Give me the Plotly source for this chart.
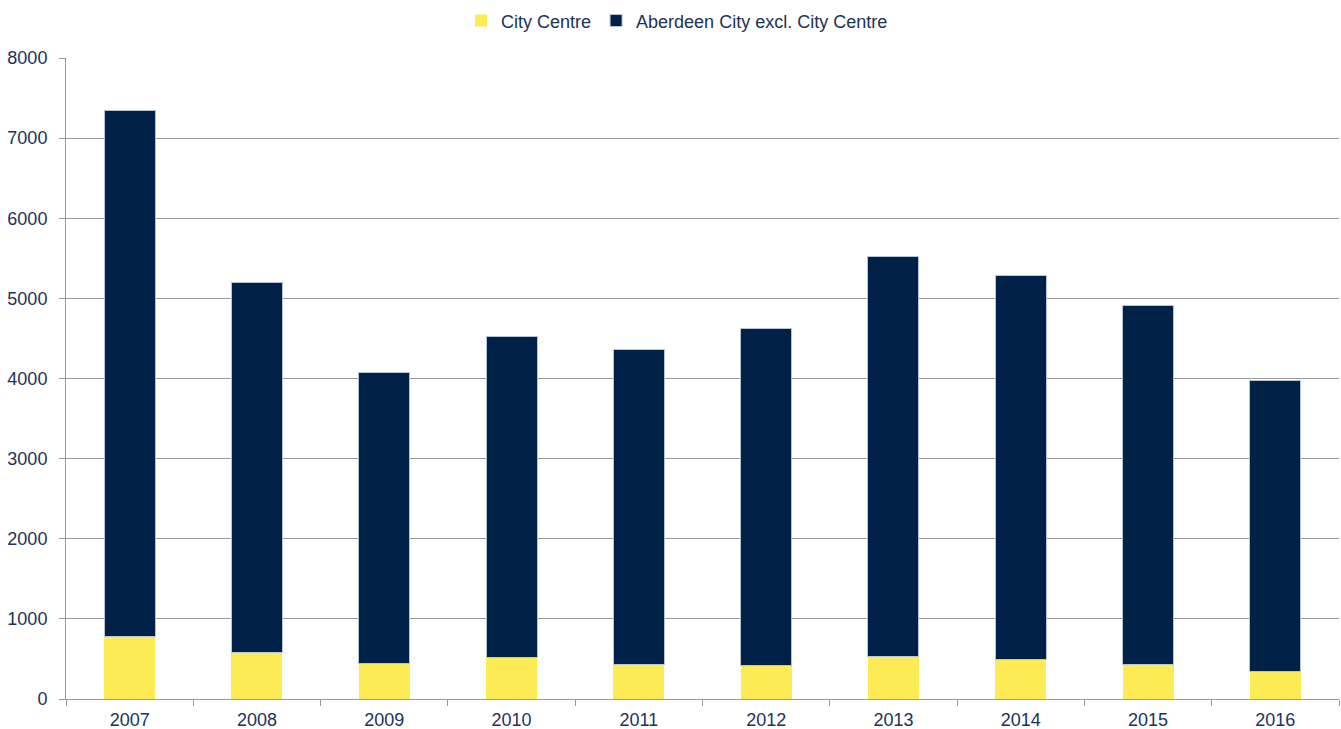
import plotly.graph_objects as go

# Annual totals by area, 2007-2016
years = ["2007", "2008", "2009", "2010", "2011", "2012", "2013", "2014", "2015", "2016"]
city_centre = [776, 581, 444, 515, 427, 415, 532, 490, 427, 349]
rest_of_city = [6567, 4618, 3629, 4015, 3933, 4215, 4990, 4791, 4485, 3621]

y_ticks = [0, 1000, 2000, 3000, 4000, 5000, 6000, 7000, 8000]

YELLOW = "#FDEB55"
NAVY = "#002147"
TEXT = "#1B3358"
GRID = "#9a9a9a"
EDGE = "#B8C4D4"

fig = go.Figure()
fig.add_trace(go.Bar(
    name="City Centre", x=years, y=city_centre,
    marker=dict(color=YELLOW, line=dict(color="rgba(255,255,255,0)", width=0)),
    width=0.4,
))
fig.add_trace(go.Bar(
    name="Aberdeen City excl. City Centre", x=years, y=rest_of_city,
    marker=dict(color=NAVY, line=dict(color=EDGE, width=1)),
    width=0.4,
))

fig.update_layout(
    barmode="stack",
    width=1341, height=729,
    margin=dict(l=66, r=2, t=56, b=30),
    paper_bgcolor="white", plot_bgcolor="white",
    font=dict(family="Liberation Sans, Arial, sans-serif", size=18, color=TEXT),
    showlegend=True,
    legend=dict(
        orientation="h", x=0.48, xanchor="center", y=1.058, yanchor="middle",
        font=dict(size=18, color=TEXT), itemwidth=30, traceorder="normal",
        bgcolor="rgba(0,0,0,0)",
    ),
    bargap=0.6,
)
fig.update_xaxes(
    type="category", showgrid=False, showline=True, linecolor=GRID, linewidth=1,
    ticks="outside", tickson="boundaries", ticklen=6, tickcolor=GRID,
    tickfont=dict(size=18, color=TEXT), ticklabelstandoff=4, automargin=False,
)
fig.update_yaxes(
    range=[0, 8000], tickvals=y_ticks, showgrid=True, gridcolor=GRID, gridwidth=1,
    showline=True, linecolor=GRID, linewidth=1, ticks="outside", ticklen=6,
    tickcolor=GRID, tickfont=dict(size=18, color=TEXT), zeroline=False,
    ticklabelstandoff=8, automargin=False,
)

fig.write_html("out.html")
